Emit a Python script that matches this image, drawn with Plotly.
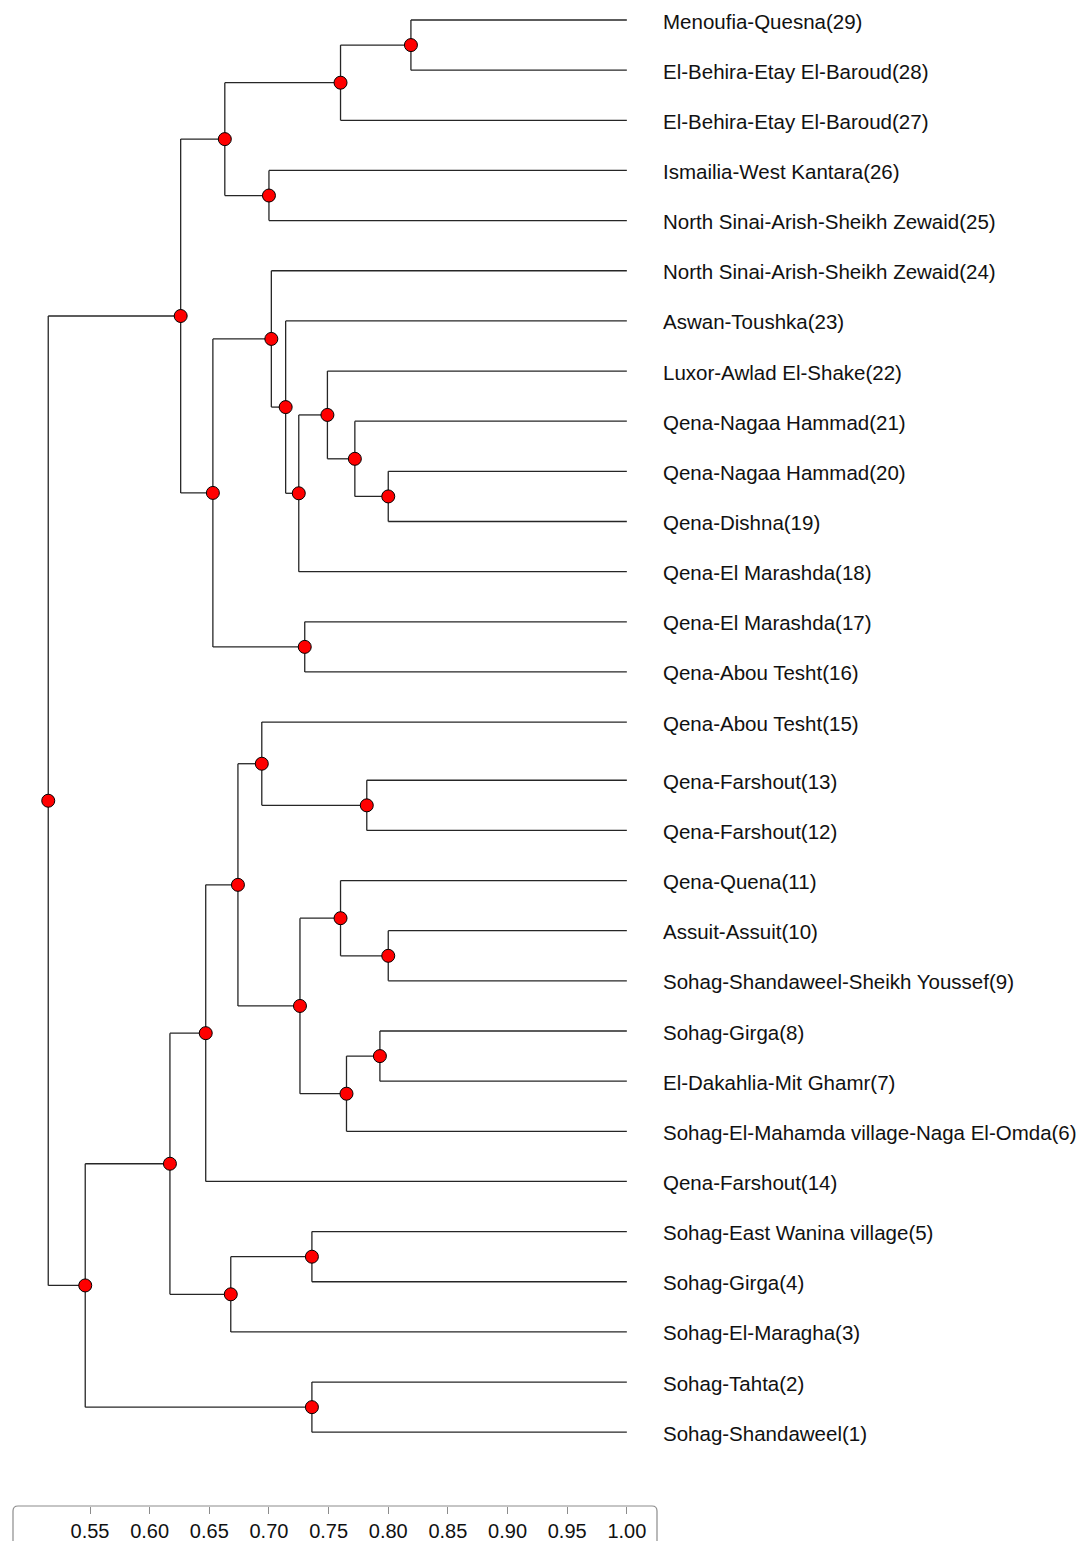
import plotly.graph_objects as go

# ---------------- data ----------------
leaf_ids = [29, 28, 27, 26, 25, 24, 23, 22, 21, 20, 19, 18, 17, 16, 15,
            13, 12, 11, 10, 9, 8, 7, 6, 14, 5, 4, 3, 2, 1]
leaf_labels = [
    "Menoufia-Quesna(29)",
    "El-Behira-Etay El-Baroud(28)",
    "El-Behira-Etay El-Baroud(27)",
    "Ismailia-West Kantara(26)",
    "North Sinai-Arish-Sheikh Zewaid(25)",
    "North Sinai-Arish-Sheikh Zewaid(24)",
    "Aswan-Toushka(23)",
    "Luxor-Awlad El-Shake(22)",
    "Qena-Nagaa Hammad(21)",
    "Qena-Nagaa Hammad(20)",
    "Qena-Dishna(19)",
    "Qena-El Marashda(18)",
    "Qena-El Marashda(17)",
    "Qena-Abou Tesht(16)",
    "Qena-Abou Tesht(15)",
    "Qena-Farshout(13)",
    "Qena-Farshout(12)",
    "Qena-Quena(11)",
    "Assuit-Assuit(10)",
    "Sohag-Shandaweel-Sheikh Youssef(9)",
    "Sohag-Girga(8)",
    "El-Dakahlia-Mit Ghamr(7)",
    "Sohag-El-Mahamda village-Naga El-Omda(6)",
    "Qena-Farshout(14)",
    "Sohag-East Wanina village(5)",
    "Sohag-Girga(4)",
    "Sohag-El-Maragha(3)",
    "Sohag-Tahta(2)",
    "Sohag-Shandaweel(1)",
]

merge_id = ["m1", "m2", "m3", "m4", "m5", "m6", "m7", "m8", "m9", "m10",
            "m11", "m12", "m13", "m14", "m15", "m16", "m17", "m18", "m19",
            "m20", "m21", "m22", "m23", "m24", "m25", "m26", "m27", "m28"]
merge_left = ["29", "m1", "26", "m2", "20", "21", "22", "m7", "23", "24",
              "17", "m10", "m4", "13", "15", "10", "11", "8", "m18",
              "m17", "m15", "m21", "5", "m23", "m22", "2", "m25", "m13"]
merge_right = ["28", "27", "25", "m3", "19", "m5", "m6", "18", "m8", "m9",
               "16", "m11", "m12", "12", "m14", "9", "m16", "7", "6",
               "m19", "m20", "14", "4", "3", "m24", "1", "m26", "m27"]
merge_height = [0.819, 0.760, 0.700, 0.663, 0.800, 0.772, 0.749, 0.725,
                0.714, 0.702, 0.730, 0.653, 0.626, 0.782, 0.694, 0.800,
                0.760, 0.793, 0.765, 0.726, 0.674, 0.647, 0.736, 0.668,
                0.617, 0.736, 0.546, 0.515]

leaf_similarity = 1.0
tick_values = [0.55, 0.60, 0.65, 0.70, 0.75, 0.80, 0.85, 0.90, 0.95, 1.00]
tick_labels = ["0.55", "0.60", "0.65", "0.70", "0.75", "0.80", "0.85",
               "0.90", "0.95", "1.00"]

# ---------------- layout helpers ----------------
ROW_GAP_AFTER = 14      # small extra space after this row (as in original)
ROW_GAP = 0.16

pos_x = {}
pos_y = {}
for i, lid in enumerate(leaf_ids):
    pos_x[str(lid)] = leaf_similarity
    pos_y[str(lid)] = i + (ROW_GAP if i > ROW_GAP_AFTER else 0.0)

seg_x, seg_y = [], []
node_x, node_y = [], []
for mid, a, b, h in zip(merge_id, merge_left, merge_right, merge_height):
    ya, yb = pos_y[a], pos_y[b]
    # vertical connector
    seg_x += [h, h, None]
    seg_y += [ya, yb, None]
    # horizontal arms
    for c in (a, b):
        seg_x += [h, pos_x[c], None]
        seg_y += [pos_y[c], pos_y[c], None]
    pos_x[mid] = h
    pos_y[mid] = (ya + yb) / 2.0
    node_x.append(h)
    node_y.append(pos_y[mid])

FONT = "Liberation Sans, Arial, sans-serif"

fig = go.Figure()
fig.add_trace(go.Scatter(
    x=seg_x, y=seg_y, mode="lines",
    line=dict(color="#262626", width=1.3),
    hoverinfo="skip", showlegend=False,
))
fig.add_trace(go.Scatter(
    x=node_x, y=node_y, mode="markers",
    marker=dict(color="#ff0000", size=13, line=dict(color="#000000", width=1)),
    hoverinfo="skip", showlegend=False,
))

annotations = []
for lid, lab in zip(leaf_ids, leaf_labels):
    annotations.append(dict(
        x=leaf_similarity, y=pos_y[str(lid)], xref="x", yref="y",
        text=lab, showarrow=False, xanchor="left", yanchor="middle",
        xshift=34, yshift=-1,
        font=dict(family=FONT, size=20.5, color="#111111"),
    ))

W, H = 1078, 1541
ML, MR, MT, MB = 13, 421, 0, 35
plot_w = W - ML - MR
plot_h = H - MT - MB
px_per_unit = 1193.0
x0 = 0.55 - 77 / px_per_unit
x1 = x0 + plot_w / px_per_unit
row_px = 50.15
y_top = -20 / row_px
y_bot = y_top + plot_h / row_px

# rounded open box forming the scale bar
rx = 5 / plot_w
ry = 5 / plot_h
yb_ = -MB / plot_h
axis_path = (f"M 0,{yb_} L 0,{-ry} Q 0,0 {rx},0 L {1 - rx},0 "
             f"Q 1,0 1,{-ry} L 1,{yb_}")

fig.update_layout(
    width=W, height=H,
    margin=dict(l=ML, r=MR, t=MT, b=MB),
    paper_bgcolor="white", plot_bgcolor="white",
    annotations=annotations,
    shapes=[dict(type="path", path=axis_path, xref="paper", yref="paper",
                 line=dict(color="#8c8c8c", width=1.2))],
    xaxis=dict(range=[x0, x1], tickvals=tick_values, ticktext=tick_labels,
               ticks="outside", ticklen=7, tickcolor="#8c8c8c", tickwidth=1.2,
               showgrid=False, zeroline=False, showline=False,
               tickfont=dict(family=FONT, size=20, color="#111111"),
               fixedrange=True),
    yaxis=dict(range=[y_bot, y_top], visible=False, showgrid=False,
               zeroline=False, fixedrange=True),
)

fig.write_html("out.html",
               config={"displayModeBar": False},
               post_script="document.body.style.margin='0';"
                           "document.body.style.overflow='hidden';")
